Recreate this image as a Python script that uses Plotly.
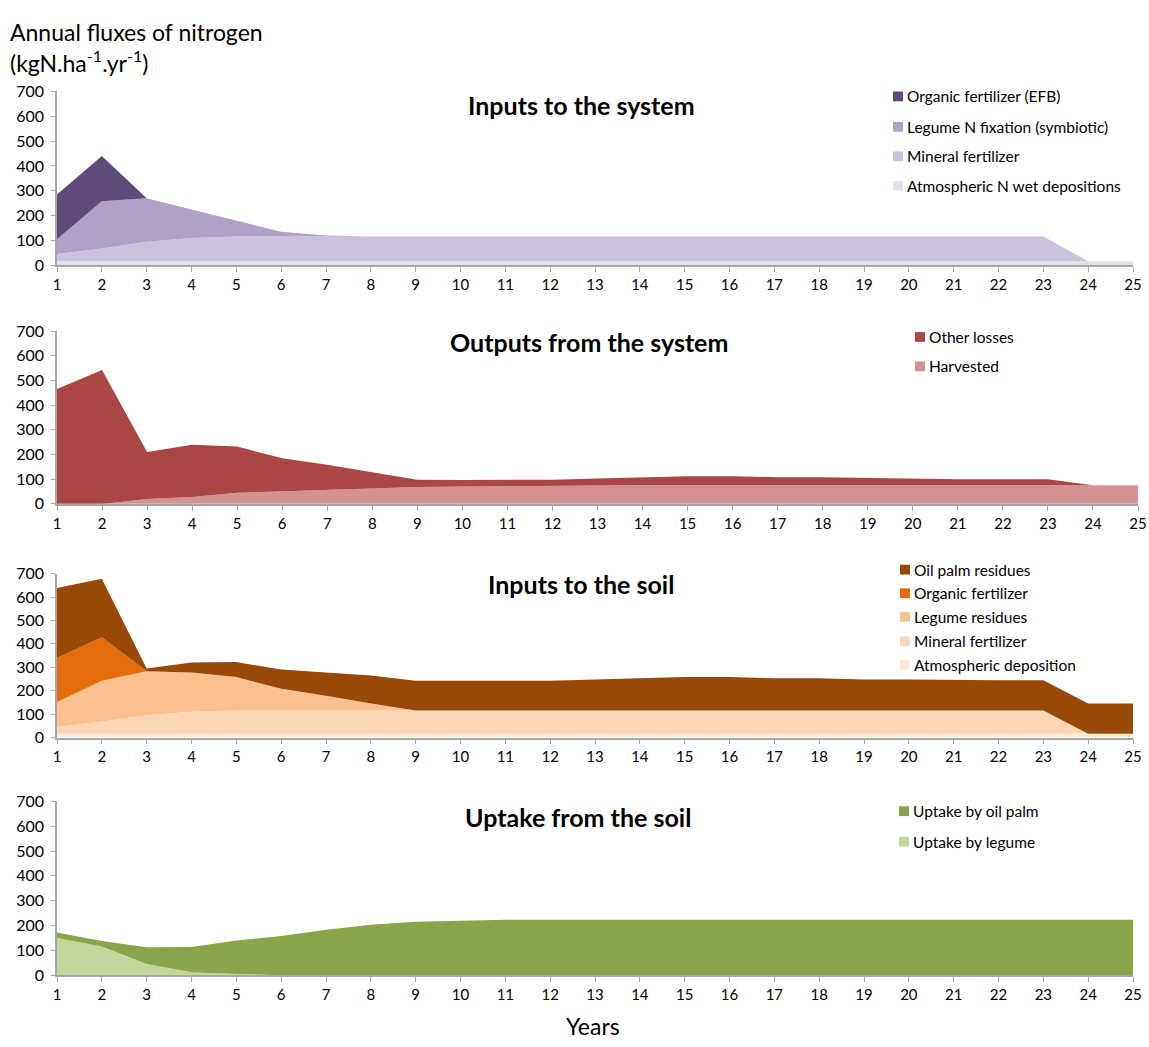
import plotly.graph_objects as go

years = list(range(1, 26))

# Panel 1: Inputs to the system (stacked, bottom first)
p1_names = ["Atmospheric N wet depositions", "Mineral fertilizer",
            "Legume N fixation (symbiotic)", "Organic fertilizer (EFB)"]
p1_atm = [16] * 25
p1_mineral = [29, 52, 79, 94, 100] + [100] * 18 + [0, 0]
p1_legume = [60, 190, 175, 115, 62, 19, 4] + [0] * 18
p1_efb = [180, 182] + [0] * 23
p1_colors = ["#E4DFEC", "#CCC1DA", "#B1A0C7", "#604A7B"]

# Panel 2: Outputs from the system
p2_names = ["Harvested", "Other losses"]
p2_harv = [0, 0, 20, 28, 45, 50, 58, 62, 68, 70, 72, 73, 74, 75, 75, 75, 75, 75, 75, 75, 75, 75, 75, 75, 75]
p2_total = [465, 542, 210, 240, 232, 185, 158, 128, 98, 97, 98, 98, 103, 108, 112, 112, 108, 108, 105, 105, 100, 100, 100, 75, 75]
p2_other = [t - h for t, h in zip(p2_total, p2_harv)]
p2_colors = ["#D49292", "#AA4643"]

# Panel 3: Inputs to the soil
p3_names = ["Atmospheric deposition", "Mineral fertilizer", "Legume residues",
            "Organic fertilizer", "Oil palm residues"]
p3_atm = [16] * 25
p3_mineral = [29, 52, 79, 94, 100] + [100] * 18 + [0, 0]
p3_legume = [107, 175, 188, 168, 142, 92, 62, 29] + [0] * 17
p3_organic = [188, 185] + [0] * 23
p3_total = [638, 678, 295, 320, 322, 290, 278, 265, 242, 243, 243, 243, 248, 253, 258, 258, 253, 253, 248, 248, 245, 245, 245, 145, 145]
p3_palm = [t - a - m - l - o for t, a, m, l, o in zip(p3_total, p3_atm, p3_mineral, p3_legume, p3_organic)]
p3_colors = ["#FDE9D9", "#FCD5B5", "#FAC090", "#E46C0A", "#984807"]

# Panel 4: Uptake from the soil
p4_names = ["Uptake by legume", "Uptake by oil palm"]
p4_legume = [150, 115, 45, 12, 5] + [0] * 20
p4_total = [172, 138, 112, 113, 140, 158, 183, 203, 215, 220, 223] + [223] * 14
p4_palm = [t - l for t, l in zip(p4_total, p4_legume)]
p4_colors = ["#C3D69B", "#88A54A"]

titles = ["Inputs to the system", "Outputs from the system",
          "Inputs to the soil", "Uptake from the soil"]
y_ticks = list(range(0, 701, 100))
x_ticks = years

W, H = 1149, 1047
ML, MR = 57, 11
PW = W - ML - MR
FONT = "Lato, Carlito, sans-serif"


def px(x):
    return (x - ML) / PW


def py(y):
    return 1 - y / H


fig = go.Figure()

panels = [
    (p1_names, [p1_atm, p1_mineral, p1_legume, p1_efb], p1_colors),
    (p2_names, [p2_harv, p2_other], p2_colors),
    (p3_names, [p3_atm, p3_mineral, p3_legume, p3_organic, p3_palm], p3_colors),
    (p4_names, [p4_legume, p4_palm], p4_colors),
]

# pixel geometry of each panel: (y of 0, y of 700, x of year 25)
geom = [(260, 83, 1133), (503, 327, 1138), (741, 574, 1133), (983, 806, 1133)]

for i, (names, series, colors) in enumerate(panels):
    xa = "x" if i == 0 else f"x{i+1}"
    ya = "y" if i == 0 else f"y{i+1}"
    for n, s, c in zip(names, series, colors):
        fig.add_trace(go.Scatter(
            x=years, y=s, name=n, xaxis=xa, yaxis=ya,
            stackgroup=f"g{i}", mode="lines", line=dict(width=0, color=c),
            fillcolor=c, showlegend=False, hoverinfo="x+y+name"))

x_font = dict(family=FONT, size=15, color="#000000")
y_font = dict(family=FONT, size=16, color="#000000")
for i, (y0, y1, x25) in enumerate(geom):
    sfx = "" if i == 0 else str(i + 1)
    fig.update_layout(**{
        f"xaxis{sfx}": dict(
            domain=[0, px(x25)], range=[1, 25], anchor=f"y{sfx}",
            tickvals=x_ticks, ticks="outside", ticklen=5, tickcolor="#A6A6A6",
            showline=True, linecolor="#A6A6A6", linewidth=1.5,
            showgrid=False, zeroline=False, tickfont=x_font, fixedrange=True),
        f"yaxis{sfx}": dict(
            domain=[py(y0), py(y1)], range=[0, 700], anchor=f"x{sfx}",
            tickvals=y_ticks, ticks="outside", ticklen=4, tickcolor="#A6A6A6",
            ticklabelstandoff=4,
            showline=True, linecolor="#A6A6A6", linewidth=1.5,
            showgrid=False, zeroline=False, tickfont=y_font, fixedrange=True),
    })

annotations = []
shapes = []
title_pos = [(581, 97), (589, 338), (581, 585), (578, 822)]
for t, (tx, ty) in zip(titles, title_pos):
    annotations.append(dict(
        text=f"<b>{t}</b>", x=px(tx), y=py(ty), xref="paper", yref="paper",
        xanchor="center", yanchor="middle", showarrow=False,
        font=dict(family=FONT, size=25, color="#000000")))

# legends drawn manually: (square left x, list of (y, name, color))
legends = [
    (893, [(88, p1_names[3], p1_colors[3]), (119, p1_names[2], p1_colors[2]),
           (149, p1_names[1], p1_colors[1]), (179, p1_names[0], p1_colors[0])]),
    (915, [(333, p2_names[1], p2_colors[1]), (363, p2_names[0], p2_colors[0])]),
    (900, [(570, p3_names[4], p3_colors[4]), (594, p3_names[3], p3_colors[3]),
           (618, p3_names[2], p3_colors[2]), (643, p3_names[1], p3_colors[1]),
           (667, p3_names[0], p3_colors[0])]),
    (899, [(816, p4_names[1], p4_colors[1]), (847, p4_names[0], p4_colors[0])]),
]
for sx, items in legends:
    for (iy, name, col) in items:
        shapes.append(dict(type="rect", xref="paper", yref="paper",
                           x0=px(sx), x1=px(sx + 10), y0=py(iy + 5), y1=py(iy - 5),
                           fillcolor=col, line=dict(width=0)))
        annotations.append(dict(
            text=name, x=px(sx + 12), y=py(iy), xref="paper", yref="paper",
            xanchor="left", yanchor="middle", showarrow=False,
            font=dict(family=FONT, size=15.5, color="#000000")))

annotations.append(dict(
    text="Annual fluxes of nitrogen", x=px(8), y=py(22), xref="paper", yref="paper",
    xanchor="left", yanchor="middle", showarrow=False,
    font=dict(family=FONT, size=23, color="#000000")))
annotations.append(dict(
    text="(kgN.ha<sup>-1</sup>.yr<sup>-1</sup>)", x=px(8), y=py(52), xref="paper", yref="paper",
    xanchor="left", yanchor="middle", showarrow=False,
    font=dict(family=FONT, size=23, color="#000000")))
annotations.append(dict(
    text="Years", x=px(593), y=py(1035), xref="paper", yref="paper",
    xanchor="center", yanchor="middle", showarrow=False,
    font=dict(family=FONT, size=23, color="#000000")))

fig.update_layout(
    width=W, height=H,
    margin=dict(l=ML, r=MR, t=0, b=0),
    paper_bgcolor="white", plot_bgcolor="white",
    annotations=annotations, shapes=shapes, showlegend=False,
)

fig.write_html(
    "out.html",
    config={"displayModeBar": False},
    post_script="document.body.style.margin='0px';document.body.style.overflow='hidden';",
)
